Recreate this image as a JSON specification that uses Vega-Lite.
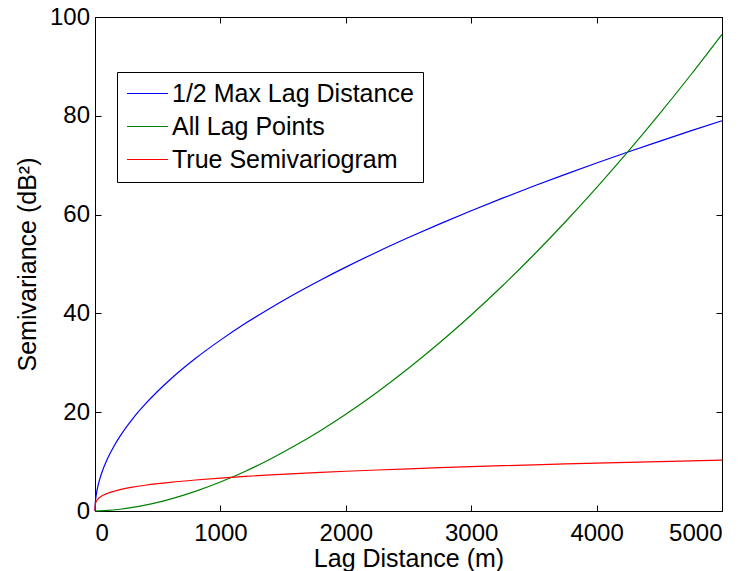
{
  "$schema": "https://vega.github.io/schema/vega-lite/v6.json",
  "width": 627,
  "height": 494,
  "autosize": {"type": "none"},
  "padding": {"left": 95, "top": 17, "right": 29, "bottom": 60},
  "background": "white",
  "config": {
    "font": "Liberation Sans",
    "view": {"stroke": "black", "strokeWidth": 1},
    "axis": {
      "domainColor": "black",
      "domainWidth": 1,
      "tickColor": "black",
      "tickWidth": 1,
      "tickSize": -6,
      "grid": false,
      "labelFont": "Liberation Sans",
      "labelFontSize": 24,
      "labelColor": "black",
      "titleFont": "Liberation Sans",
      "titleFontSize": 25,
      "titleFontWeight": "normal",
      "titleColor": "black"
    },
    "legend": {
      "orient": "none",
      "legendX": 22,
      "legendY": 55,
      "strokeColor": "black",
      "fillColor": "white",
      "padding": 9,
      "symbolType": "M-2.5,0H2.5",
      "symbolSize": 269,
      "symbolStrokeWidth": 1.2,
      "symbolOffset": 9,
      "labelFont": "Liberation Sans",
      "labelFontSize": 25,
      "labelColor": "black",
      "labelOffset": 12,
      "rowPadding": 7,
      "labelLimit": 400
    }
  },
  "data": {
    "values": [
      {"h": 0, "series": "1/2 Max Lag Distance", "v": 0},
      {"h": 2, "series": "1/2 Max Lag Distance", "v": 1.427},
      {"h": 5, "series": "1/2 Max Lag Distance", "v": 2.283},
      {"h": 10, "series": "1/2 Max Lag Distance", "v": 3.258},
      {"h": 25, "series": "1/2 Max Lag Distance", "v": 5.214},
      {"h": 50, "series": "1/2 Max Lag Distance", "v": 7.44},
      {"h": 100, "series": "1/2 Max Lag Distance", "v": 10.617},
      {"h": 150, "series": "1/2 Max Lag Distance", "v": 13.071},
      {"h": 200, "series": "1/2 Max Lag Distance", "v": 15.151},
      {"h": 300, "series": "1/2 Max Lag Distance", "v": 18.653},
      {"h": 400, "series": "1/2 Max Lag Distance", "v": 21.618},
      {"h": 500, "series": "1/2 Max Lag Distance", "v": 24.244},
      {"h": 600, "series": "1/2 Max Lag Distance", "v": 26.618},
      {"h": 800, "series": "1/2 Max Lag Distance", "v": 30.853},
      {"h": 1000, "series": "1/2 Max Lag Distance", "v": 34.59},
      {"h": 1200, "series": "1/2 Max Lag Distance", "v": 37.99},
      {"h": 1400, "series": "1/2 Max Lag Distance", "v": 41.11},
      {"h": 1600, "series": "1/2 Max Lag Distance", "v": 44.04},
      {"h": 1800, "series": "1/2 Max Lag Distance", "v": 46.78},
      {"h": 2000, "series": "1/2 Max Lag Distance", "v": 49.37},
      {"h": 2250, "series": "1/2 Max Lag Distance", "v": 52.44},
      {"h": 2500, "series": "1/2 Max Lag Distance", "v": 55.35},
      {"h": 2750, "series": "1/2 Max Lag Distance", "v": 58.13},
      {"h": 3000, "series": "1/2 Max Lag Distance", "v": 60.79},
      {"h": 3250, "series": "1/2 Max Lag Distance", "v": 63.33},
      {"h": 3500, "series": "1/2 Max Lag Distance", "v": 65.78},
      {"h": 3750, "series": "1/2 Max Lag Distance", "v": 68.15},
      {"h": 4000, "series": "1/2 Max Lag Distance", "v": 70.44},
      {"h": 4250, "series": "1/2 Max Lag Distance", "v": 72.67},
      {"h": 4500, "series": "1/2 Max Lag Distance", "v": 74.83},
      {"h": 4750, "series": "1/2 Max Lag Distance", "v": 76.94},
      {"h": 5000, "series": "1/2 Max Lag Distance", "v": 78.99},

      {"h": 0, "series": "All Lag Points", "v": 0},
      {"h": 100, "series": "All Lag Points", "v": 0.107},
      {"h": 200, "series": "All Lag Points", "v": 0.357},
      {"h": 300, "series": "All Lag Points", "v": 0.722},
      {"h": 400, "series": "All Lag Points", "v": 1.191},
      {"h": 500, "series": "All Lag Points", "v": 1.757},
      {"h": 600, "series": "All Lag Points", "v": 2.412},
      {"h": 800, "series": "All Lag Points", "v": 3.979},
      {"h": 1000, "series": "All Lag Points", "v": 5.866},
      {"h": 1200, "series": "All Lag Points", "v": 8.055},
      {"h": 1400, "series": "All Lag Points", "v": 10.53},
      {"h": 1600, "series": "All Lag Points", "v": 13.29},
      {"h": 1800, "series": "All Lag Points", "v": 16.31},
      {"h": 2000, "series": "All Lag Points", "v": 19.59},
      {"h": 2250, "series": "All Lag Points", "v": 24.05},
      {"h": 2500, "series": "All Lag Points", "v": 28.89},
      {"h": 2750, "series": "All Lag Points", "v": 34.1},
      {"h": 3000, "series": "All Lag Points", "v": 39.68},
      {"h": 3250, "series": "All Lag Points", "v": 45.6},
      {"h": 3500, "series": "All Lag Points", "v": 51.88},
      {"h": 3750, "series": "All Lag Points", "v": 58.5},
      {"h": 4000, "series": "All Lag Points", "v": 65.45},
      {"h": 4250, "series": "All Lag Points", "v": 72.73},
      {"h": 4500, "series": "All Lag Points", "v": 80.33},
      {"h": 4750, "series": "All Lag Points", "v": 88.26},
      {"h": 5000, "series": "All Lag Points", "v": 96.5},

      {"h": 0, "series": "True Semivariogram", "v": 0},
      {"h": 2, "series": "True Semivariogram", "v": 1.246},
      {"h": 5, "series": "True Semivariogram", "v": 1.595},
      {"h": 10, "series": "True Semivariogram", "v": 1.923},
      {"h": 25, "series": "True Semivariogram", "v": 2.463},
      {"h": 50, "series": "True Semivariogram", "v": 2.97},
      {"h": 100, "series": "True Semivariogram", "v": 3.582},
      {"h": 150, "series": "True Semivariogram", "v": 3.997},
      {"h": 200, "series": "True Semivariogram", "v": 4.319},
      {"h": 300, "series": "True Semivariogram", "v": 4.819},
      {"h": 400, "series": "True Semivariogram", "v": 5.207},
      {"h": 500, "series": "True Semivariogram", "v": 5.531},
      {"h": 600, "series": "True Semivariogram", "v": 5.81},
      {"h": 800, "series": "True Semivariogram", "v": 6.279},
      {"h": 1000, "series": "True Semivariogram", "v": 6.67},
      {"h": 1200, "series": "True Semivariogram", "v": 7.007},
      {"h": 1400, "series": "True Semivariogram", "v": 7.305},
      {"h": 1600, "series": "True Semivariogram", "v": 7.573},
      {"h": 1800, "series": "True Semivariogram", "v": 7.817},
      {"h": 2000, "series": "True Semivariogram", "v": 8.042},
      {"h": 2250, "series": "True Semivariogram", "v": 8.302},
      {"h": 2500, "series": "True Semivariogram", "v": 8.542},
      {"h": 2750, "series": "True Semivariogram", "v": 8.764},
      {"h": 3000, "series": "True Semivariogram", "v": 8.973},
      {"h": 3250, "series": "True Semivariogram", "v": 9.169},
      {"h": 3500, "series": "True Semivariogram", "v": 9.354},
      {"h": 3750, "series": "True Semivariogram", "v": 9.531},
      {"h": 4000, "series": "True Semivariogram", "v": 9.698},
      {"h": 4250, "series": "True Semivariogram", "v": 9.859},
      {"h": 4500, "series": "True Semivariogram", "v": 10.012},
      {"h": 4750, "series": "True Semivariogram", "v": 10.158},
      {"h": 5000, "series": "True Semivariogram", "v": 10.3}
    ]
  },
  "resolve": {"axis": {"x": "independent", "y": "independent"}},
  "layer": [
    {
      "mark": {"type": "line", "strokeWidth": 1.2, "interpolate": "monotone"},
      "encoding": {
        "x": {
          "field": "h",
          "type": "quantitative",
          "scale": {"domain": [0, 5000], "nice": false, "zero": false},
          "axis": {"orient": "bottom", "title": "Lag Distance (m)", "format": "d", "values": [0, 1000, 2000, 3000, 4000, 5000], "labelPadding": 16, "titlePadding": 1}
        },
        "y": {
          "field": "v",
          "type": "quantitative",
          "scale": {"domain": [0, 100], "nice": false},
          "axis": {"orient": "left", "title": "Semivariance (dB²)", "format": "d", "values": [0, 20, 40, 60, 80, 100], "labelPadding": 11.5, "titlePadding": 9}
        },
        "color": {
          "field": "series",
          "type": "nominal",
          "scale": {
            "domain": ["1/2 Max Lag Distance", "All Lag Points", "True Semivariogram"],
            "range": ["#0000ff", "#008000", "#ff0000"]
          },
          "legend": {
            "title": null,
            "encode": {
              "symbols": {
                "update": {
                  "stroke": {"scale": "color", "field": "value"},
                  "fill": {"value": "transparent"}
                }
              }
            }
          }
        }
      }
    },
    {
      "mark": {"type": "line", "opacity": 0},
      "encoding": {
        "x": {
          "field": "h",
          "type": "quantitative",
          "scale": {"domain": [0, 5000], "nice": false, "zero": false},
          "axis": {"orient": "top", "title": null, "labels": false, "values": [0, 1000, 2000, 3000, 4000, 5000]}
        },
        "y": {
          "field": "v",
          "type": "quantitative",
          "scale": {"domain": [0, 100], "nice": false},
          "axis": {"orient": "right", "title": null, "labels": false, "values": [0, 20, 40, 60, 80, 100]}
        },
        "detail": {"field": "series"}
      }
    }
  ]
}
